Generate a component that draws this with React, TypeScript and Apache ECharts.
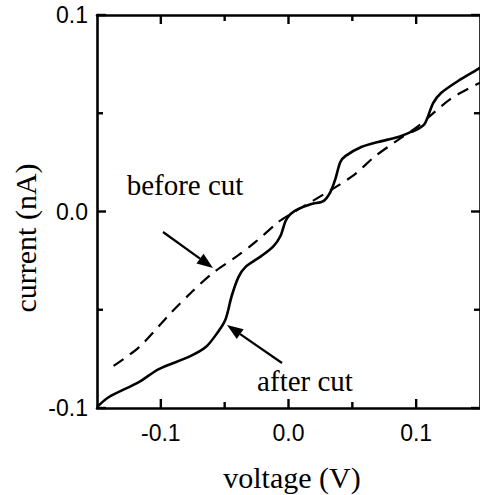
import React, { useEffect, useRef } from "react";
import * as echarts from "echarts";

// after cut (solid)
const voltageAfter = [-0.15, -0.1406, -0.1172, -0.1016, -0.0781, -0.0648, -0.0547, -0.0492, -0.0445, -0.0391, -0.0336, -0.0211, -0.0117, -0.0063, -0.0023, 0.0016, 0.0078, 0.018, 0.0273, 0.0328, 0.0367, 0.0406, 0.0445, 0.057, 0.0703, 0.0859, 0.0961, 0.1016, 0.107, 0.1133, 0.1195, 0.1328, 0.1484, 0.15];
const currentAfter = [-0.0995, -0.0944, -0.0868, -0.0802, -0.074, -0.069, -0.0608, -0.0547, -0.043, -0.0333, -0.0282, -0.0226, -0.0176, -0.0125, -0.0048, -0.0013, 0.0013, 0.0038, 0.0053, 0.0099, 0.0165, 0.0252, 0.0282, 0.0328, 0.0354, 0.0379, 0.0405, 0.042, 0.045, 0.0552, 0.0603, 0.0664, 0.0725, 0.0733];

// before cut (dashed)
const voltageBefore = [-0.137, -0.117, -0.0914, -0.0758, -0.0602, -0.0414, -0.0258, -0.0078, 0.0, 0.0492, 0.068, 0.0836, 0.1016, 0.127, 0.148, 0.15];
const currentBefore = [-0.0786, -0.069, -0.0511, -0.041, -0.0318, -0.0232, -0.0155, -0.0053, -0.002, 0.0176, 0.0282, 0.0354, 0.0435, 0.0573, 0.0649, 0.0655];

// ticks
const xMajorTicks = [-0.1, 0, 0.1];
const xMinorTicks = [-0.05, 0.05];
const yMajorTicks = [-0.1, 0, 0.1];
const yMinorTicks = [-0.05, 0.05];
const xTickLabels = ["-0.1", "0.0", "0.1"];
const yTickLabels = ["-0.1", "0.0", "0.1"];

const X_MIN = -0.15, X_MAX = 0.15, Y_MIN = -0.1, Y_MAX = 0.1;

function labelFor(values: number[], labels: string[]) {
  return (v: number) => {
    for (let i = 0; i < values.length; i++) {
      if (Math.abs(values[i] - v) < 1e-9) return labels[i];
    }
    return "";
  };
}

export default function App() {
  const ref = useRef<HTMLDivElement>(null);
  useEffect(() => {
    if (!ref.current) return;
    const chart = echarts.init(ref.current, undefined, { renderer: "svg" });
    const sans = "Liberation Sans";
    const serif = "Liberation Serif";
    const MAJOR_LEN = 9, MINOR_LEN = 6, TICK_W = 2.4;

    const xAxisDef = (pos: string, labels: boolean) => ({
      type: "value",
      position: pos,
      min: X_MIN,
      max: X_MAX,
      interval: 0.05,
      splitLine: { show: false },
      axisLine: { show: true, onZero: false, lineStyle: { color: "#000", width: 2.6 } },
      axisTick: { show: false },
      axisLabel: labels
        ? {
            show: true,
            showMinLabel: false,
            showMaxLabel: false,
            formatter: labelFor(xMajorTicks, xTickLabels),
            fontFamily: sans,
            fontSize: 23,
            color: "#000",
            margin: 13,
          }
        : { show: false },
    });
    const yAxisDef = (pos: string, labels: boolean) => ({
      type: "value",
      position: pos,
      min: Y_MIN,
      max: Y_MAX,
      interval: 0.05,
      splitLine: { show: false },
      axisLine: { show: true, onZero: false, lineStyle: { color: "#000", width: 2.6 } },
      axisTick: { show: false },
      axisLabel: labels
        ? {
            show: true,
            formatter: labelFor(yMajorTicks, yTickLabels),
            fontFamily: sans,
            fontSize: 23,
            color: "#000",
            margin: 9,
          }
        : { show: false },
    });

    chart.setOption({
      animation: false,
      grid: { left: 97, right: -2, top: 15, bottom: 87, containLabel: false },
      xAxis: [xAxisDef("bottom", true), xAxisDef("top", false)],
      yAxis: [yAxisDef("left", true), yAxisDef("right", false)],
      series: [
        {
          type: "line",
          xAxisIndex: 0,
          yAxisIndex: 0,
          data: voltageAfter.map((v, i) => [v, currentAfter[i]]),
          showSymbol: false,
          smooth: 0.3,
          lineStyle: { color: "#000", width: 2.6 },
          clip: true,
        },
        {
          type: "line",
          xAxisIndex: 0,
          yAxisIndex: 0,
          data: voltageBefore.map((v, i) => [v, currentBefore[i]]),
          showSymbol: false,
          smooth: 0.3,
          lineStyle: { color: "#000", width: 2.2, type: [12, 8] },
          clip: true,
        },
      ],
    });

    // tick marks placed through the chart's own scales (filled rects)
    const toPx = (x: number, y: number) =>
      chart.convertToPixel({ xAxisIndex: 0, yAxisIndex: 0 }, [x, y]) as number[];
    const tickFill = { fill: "#000" };
    const ticks: any[] = [];
    const addX = (v: number, len: number) => {
      const b = toPx(v, Y_MIN), t = toPx(v, Y_MAX);
      ticks.push({ type: "rect", z: 100, shape: { x: b[0] - TICK_W / 2, y: b[1] - len, width: TICK_W, height: len }, style: tickFill });
      ticks.push({ type: "rect", z: 100, shape: { x: t[0] - TICK_W / 2, y: t[1], width: TICK_W, height: len }, style: tickFill });
    };
    const addY = (v: number, len: number) => {
      const l = toPx(X_MIN, v), r = toPx(X_MAX, v);
      ticks.push({ type: "rect", z: 100, shape: { x: l[0], y: l[1] - TICK_W / 2, width: len, height: TICK_W }, style: tickFill });
      ticks.push({ type: "rect", z: 100, shape: { x: r[0] - len, y: r[1] - TICK_W / 2, width: len, height: TICK_W }, style: tickFill });
    };
    xMajorTicks.forEach((v) => addX(v, MAJOR_LEN));
    xMinorTicks.forEach((v) => addX(v, MINOR_LEN));
    yMajorTicks.forEach((v) => addY(v, MAJOR_LEN));
    yMinorTicks.forEach((v) => addY(v, MINOR_LEN));

    const arrow = (x1: number, y1: number, x2: number, y2: number) => {
      const ang = Math.atan2(y2 - y1, x2 - x1);
      const L = 16, W = 6;
      const bx = x2 - L * Math.cos(ang), by = y2 - L * Math.sin(ang);
      const px = -Math.sin(ang) * W, py = Math.cos(ang) * W;
      return [
        { type: "line", shape: { x1, y1, x2: bx, y2: by }, style: { stroke: "#000", lineWidth: 2.2 } },
        {
          type: "polygon",
          shape: { points: [[x2, y2], [bx + px, by + py], [bx - px, by - py]] },
          style: { fill: "#000" },
        },
      ];
    };

    const txt = (text: string, x: number, y: number, size: number, rotation = 0) => ({
      type: "text",
      x,
      y,
      rotation,
      style: { text, fontFamily: serif, fontSize: size, fill: "#000", align: "center", verticalAlign: "middle" },
    });

    chart.setOption({
      graphic: [
        txt("voltage (V)", 292, 477, 30),
        txt("current (nA)", 25, 238, 30, Math.PI / 2),
        txt("before cut", 185, 185, 29),
        txt("after cut", 305, 381, 29),
        ...arrow(163, 232, 213, 268),
        ...arrow(282, 363, 227, 325),
        ...ticks,
      ],
    });
    return () => chart.dispose();
  }, []);
  return (
    <div style={{ position: "fixed", left: 0, top: 0, width: 480, height: 495, overflow: "hidden", background: "#fff" }}>
      <div ref={ref} style={{ width: 480, height: 495 }} />
    </div>
  );
}
